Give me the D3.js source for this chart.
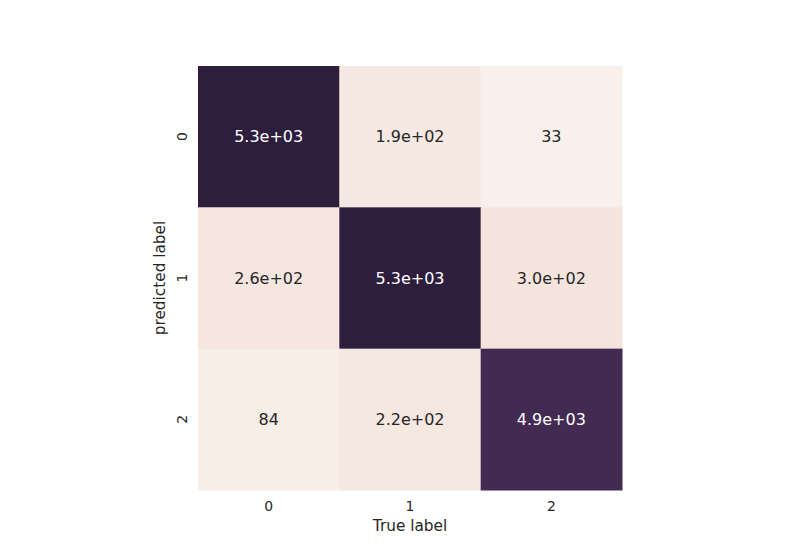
<!DOCTYPE html>
<html>
<head>
<meta charset="utf-8">
<script src="https://cdn.jsdelivr.net/npm/d3@7"></script>
<style>
  body { margin: 0; background: #fff; }
  svg text { font-family: "DejaVu Sans", sans-serif; }
</style>
</head>
<body>
<script>
// Confusion matrix: rows = predicted label, columns = true label
const trueLabels = ["0", "1", "2"];
const predLabels = ["0", "1", "2"];
const counts = [
  [5300, 190, 33],
  [260, 5300, 300],
  [84, 220, 4900]
];

const width = 800;
const height = 550;
const margin = {top: 66, left: 198};
const gridSize = 424;
const ink = "#262626";

// seaborn-style cubehelix palette (light .95 -> dark .15)
function cubehelix(x) {
  const start = 0, rot = 0.4, gamma = 1, hue = 0.8;
  const xg = Math.pow(x, gamma);
  const a = hue * xg * (1 - xg) / 2;
  const phi = 2 * Math.PI * (start / 3 + rot * x);
  const c = Math.cos(phi), s = Math.sin(phi);
  const r = xg + a * (-0.14861 * c + 1.78277 * s);
  const g = xg + a * (-0.29227 * c - 0.90649 * s);
  const b = xg + a * (1.97294 * c);
  const clip = v => Math.round(255 * Math.max(0, Math.min(1, v)));
  return d3.rgb(clip(r), clip(g), clip(b));
}

const flat = counts.flat();
const color = d3.scaleLinear()
  .domain([d3.min(flat), d3.max(flat)])
  .range([0.95, 0.15]);

// python-like "%.2g"
function fmt2g(v) {
  const exp = Math.floor(Math.log10(Math.abs(v)));
  if (exp >= 2 || exp < -4) {
    const m = (v / Math.pow(10, exp)).toFixed(1);
    const e = Math.abs(exp) < 10 ? "0" + Math.abs(exp) : "" + Math.abs(exp);
    return m + "e" + (exp < 0 ? "-" : "+") + e;
  }
  return String(+v.toPrecision(2));
}

const svg = d3.select("body").append("svg")
  .attr("width", width)
  .attr("height", height);

const x = d3.scaleBand().domain(trueLabels).range([0, gridSize]);
const y = d3.scaleBand().domain(predLabels).range([0, gridSize]);

const g = svg.append("g")
  .attr("transform", `translate(${margin.left},${margin.top})`);

const cells = [];
counts.forEach((row, i) => {
  row.forEach((v, j) => cells.push({row: predLabels[i], col: trueLabels[j], value: v}));
});

g.selectAll("rect")
  .data(cells)
  .enter().append("rect")
  .attr("x", d => x(d.col))
  .attr("y", d => y(d.row))
  .attr("width", x.bandwidth() + 0.5)
  .attr("height", y.bandwidth() + 0.5)
  .attr("fill", d => cubehelix(color(d.value)));

g.selectAll("text.annot")
  .data(cells)
  .enter().append("text")
  .attr("class", "annot")
  .attr("x", d => x(d.col) + x.bandwidth() / 2)
  .attr("y", d => y(d.row) + y.bandwidth() / 2)
  .attr("dy", "0.35em")
  .attr("text-anchor", "middle")
  .attr("font-size", "16px")
  .attr("fill", d => {
    const c = cubehelix(color(d.value));
    const lum = 0.2126 * c.r + 0.7152 * c.g + 0.0722 * c.b;
    return lum < 104 ? "#fff" : ink;
  })
  .text(d => fmt2g(d.value));

// x axis (no tick marks)
const xAxis = g.append("g")
  .attr("transform", `translate(0,${gridSize})`)
  .call(d3.axisBottom(x).tickSize(0).tickPadding(11));
xAxis.select(".domain").remove();
xAxis.selectAll("text")
  .attr("font-size", "13.9px")
  .attr("fill", ink)
  .style("font-family", "DejaVu Sans");

// y axis with rotated labels
const yAxis = g.append("g")
  .call(d3.axisLeft(y).tickSize(0).tickPadding(0));
yAxis.select(".domain").remove();
yAxis.selectAll("text")
  .attr("font-size", "13.9px")
  .attr("fill", ink)
  .style("font-family", "DejaVu Sans")
  .attr("text-anchor", "middle")
  .attr("x", null)
  .attr("transform", "translate(-16,0) rotate(-90)")
  .attr("y", 0)
  .attr("dy", "0.35em");

svg.append("text")
  .attr("x", margin.left + gridSize / 2)
  .attr("y", 531)
  .attr("text-anchor", "middle")
  .attr("font-size", "15.3px")
  .attr("fill", ink)
  .text("True label");

svg.append("text")
  .attr("transform", `translate(165,${margin.top + gridSize / 2}) rotate(-90)`)
  .attr("text-anchor", "middle")
  .attr("font-size", "15.3px")
  .attr("fill", ink)
  .text("predicted label");
</script>
</body>
</html>
